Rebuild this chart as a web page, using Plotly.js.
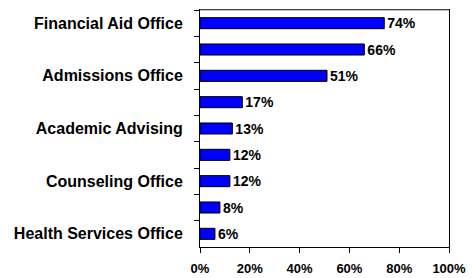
<!DOCTYPE html>
<html>
<head>
<meta charset="utf-8">
<script src="https://cdn.plot.ly/plotly-3.0.1.min.js"></script>
<style>html,body{margin:0;padding:0;background:#fff;}#chart{width:472px;height:278px;}</style>
</head>
<body>
<div id="chart"></div>
<script>
// Categories top to bottom (every other one is unlabeled in the original)
const categories = ["Financial Aid Office", "Office 2", "Admissions Office", "Office 4", "Academic Advising", "Office 6", "Counseling Office", "Office 8", "Health Services Office"];
const tickLabels = ["Financial Aid Office", "", "Admissions Office", "", "Academic Advising", "", "Counseling Office", "", "Health Services Office"];
const values = [0.74, 0.66, 0.51, 0.17, 0.13, 0.12, 0.12, 0.08, 0.06];
const xTickVals = [0, 0.2, 0.4, 0.6, 0.8, 1.0];
const xTickText = ["0%", "20%", "40%", "60%", "80%", "100%"];

const font = "Liberation Sans, Arial, sans-serif";

const bars = {
  type: "bar",
  orientation: "h",
  y: categories,
  x: values,
  text: values.map(v => Math.round(v * 100) + "%"),
  textposition: "outside",
  constraintext: "none",
  cliponaxis: false,
  textfont: {family: font, size: 14, color: "#000", weight: "bold"},
  marker: {color: "#0000FF", line: {color: "#000", width: 1}},
  hoverinfo: "none"
};

const layout = {
  width: 472, height: 278,
  margin: {l: 200, r: 23, t: 10, b: 31},
  paper_bgcolor: "#fff", plot_bgcolor: "#fff",
  showlegend: false,
  bargap: 0.58,
  font: {family: font, size: 12, color: "#000"},
  xaxis: {
    range: [0, 1], tickvals: xTickVals, ticktext: xTickText,
    showgrid: false, zeroline: false, showline: true, linecolor: "#000", linewidth: 1,
    mirror: true,
    ticks: "outside", ticklen: 5, tickcolor: "#000",
    tickfont: {family: font, size: 13, color: "#000", weight: "bold"},
    ticklabelstandoff: 4, fixedrange: true
  },
  yaxis: {
    type: "category", autorange: "reversed", categoryorder: "array", categoryarray: categories,
    tickson: "boundaries",
    showgrid: false, zeroline: false, showline: true, linecolor: "#000", linewidth: 1,
    mirror: true,
    ticks: "outside", ticklen: 5, tickcolor: "#000",
    tickfont: {family: font, size: 16, color: "#000", weight: "bold"},
    ticklabelstandoff: 13, fixedrange: true
  },
  shapes: [
    {type: "line", xref: "paper", yref: "paper", x0: 0, x1: 1, y0: 1, y1: 1, line: {color: "#888", width: 1}, layer: "above"}
  ]
};

Plotly.newPlot("chart", [bars], layout, {displayModeBar: false}).then(gd => {
  // hide labels of the categories that carry no label in the original
  gd.querySelectorAll(".ytick text").forEach(t => {
    if (!tickLabels.includes(t.textContent)) t.style.display = "none";
  });
});
</script>
</body>
</html>
